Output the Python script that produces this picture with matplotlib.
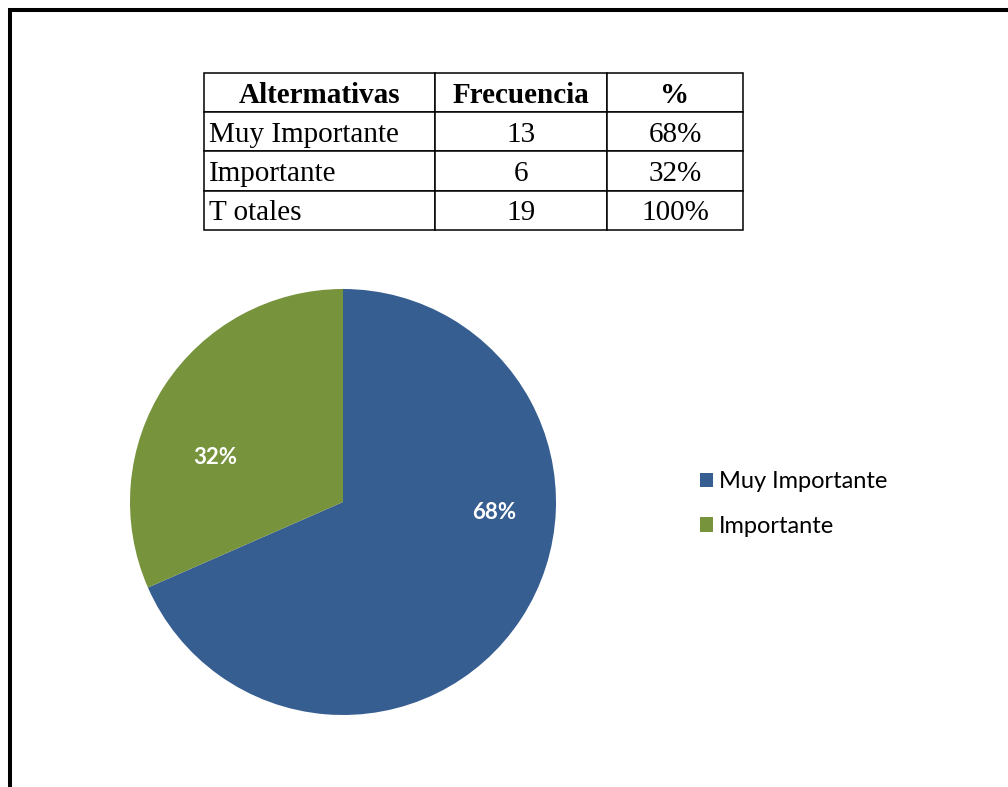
import matplotlib
matplotlib.use("Agg")
import matplotlib.pyplot as plt
from matplotlib.lines import Line2D
from matplotlib.patches import Patch

# data
categories = ["Muy Importante", "Importante"]
frecuencia = [13, 6]
porcentaje = [68, 32]
total_label = "T otales"
col_labels = ["Altermativas", "Frecuencia", "%"]

colors = ["#375E91", "#77933C"]
label_pos = [(0.71, -0.05), (-0.60, 0.21)]  # where Excel put the % labels

W, H = 1008, 787
fig = plt.figure(figsize=(W / 100, H / 100), dpi=100)

# frame (only top and left edges visible in the crop)
fig.add_artist(Line2D([9.5 / W, 9.5 / W, 1.0], [0.0, 1 - 9.5 / H, 1 - 9.5 / H],
                      transform=fig.transFigure, color="black", lw=2.9,
                      solid_joinstyle="miter"))

# table
tab_ax = fig.add_axes([204 / W, 1 - 230 / H, 539 / W, 157 / H])
tab_ax.axis("off")
rows = [[c, str(f), f"{p}%"] for c, f, p in zip(categories, frecuencia, porcentaje)]
rows.append([total_label, str(sum(frecuencia)), f"{sum(porcentaje)}%"])
tbl = tab_ax.table(cellText=rows, colLabels=col_labels, cellLoc="center",
                   bbox=[0, 0, 1, 1], colWidths=[231, 172, 136])
tbl.auto_set_font_size(False)
for (r, c), cell in tbl.get_celld().items():
    cell.set_linewidth(1.1)
    cell.set_edgecolor("black")
    txt = cell.get_text()
    txt.set_fontfamily("Liberation Serif")
    txt.set_fontsize(21)
    txt.set_va("center_baseline")
    if r == 0:
        txt.set_fontweight("bold")
    elif c == 0:
        cell.set_text_props(ha="left")
        cell.PAD = 0.02

# pie
ax = fig.add_axes([130 / W, 72 / H, 426 / W, 426 / H])
ax.pie(frecuencia, colors=colors, startangle=90, counterclock=False, radius=1,
       wedgeprops=dict(linewidth=0))
ax.set_xlim(-1, 1)
ax.set_ylim(-1, 1)
for (x, y), p in zip(label_pos, porcentaje):
    ax.text(x, y, f"{p}%", color="white", fontsize=16, fontweight="bold",
            family="Lato", ha="center", va="center")

handles = [Patch(facecolor=c, edgecolor="none") for c in colors]
fig.legend(handles, categories, loc="center left",
           bbox_to_anchor=(679 / W, 1 - 504 / H), frameon=False,
           prop=dict(family="Lato", size=17), handlelength=0.55,
           handleheight=0.55, handletextpad=0.25, labelspacing=1.0)

fig.savefig("out.png", dpi=100, facecolor="white")
